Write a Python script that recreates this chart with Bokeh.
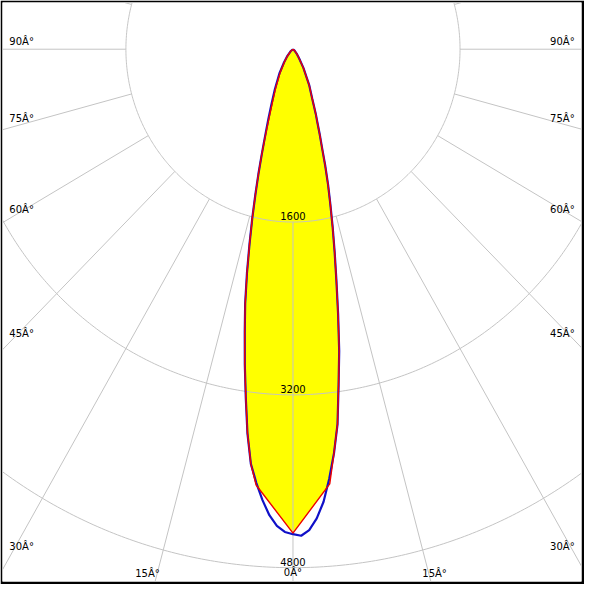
import numpy as np
from bokeh.plotting import figure
from bokeh.models import Range1d
from bokeh.embed import file_html
from bokeh.resources import INLINE
from bokeh.core.properties import value

# ---------------- data (cd) ----------------
# C90-C270 plane (blue), left and right halves
gamma_blue = [0, 1, 2, 3, 4, 5, 6, 7, 8, 9, 10, 11, 12, 13, 14, 15, 16, 17, 18, 19, 20,
              22, 25, 30, 35, 40, 50, 90]
i_blue_left = [4490, 4470, 4415, 4320, 4185, 4030, 3860, 3580, 3250, 2950, 2660, 2400, 2120,
               1850, 1610, 1390, 1200, 1030, 890, 780, 690, 550, 410, 260, 150, 90, 30, 0]
i_blue_right = [4490, 4505, 4455, 4350, 4200, 3990, 3760, 3500, 3140, 2830, 2490, 2180, 1920,
                1690, 1480, 1300, 1120, 950, 830, 720, 640, 490, 370, 200, 100, 60, 20, 0]

# C0-C180 plane (red), left and right halves
gamma_red = [0, 5, 6, 7, 8, 9, 10, 11, 12, 13, 14, 15, 16, 17, 18, 19, 20,
             22, 25, 30, 35, 40, 50, 90]
i_red_left = [4480, 4050, 3860, 3580, 3250, 2950, 2660, 2400, 2120,
              1850, 1610, 1390, 1200, 1030, 880, 760, 660, 520, 390, 240, 140, 85, 30, 0]
i_red_right = [4480, 4040, 3760, 3500, 3140, 2830, 2490, 2180, 1920,
               1690, 1480, 1300, 1120, 950, 830, 720, 640, 490, 370, 200, 100, 60, 20, 0]

ring_values = [1600, 3200, 4800]
ring_labels = ["1600", "3200", "4800"]
spoke_step = 15
angle_ticks = [0, 15, 30, 45, 60, 75, 90]
angle_labels = ["0Â°", "15Â°", "30Â°", "45Â°", "60Â°", "75Â°", "90Â°"]

# ---------------- geometry of the diagram ----------------
KX, KY = 0.1073, 0.111      # reference pixels per cd
CX, CY = 300.5, 50.0        # reference pixel position of the pole


def to_xy(gammas, intens, side):
    g = np.radians(np.asarray(gammas, float))
    r = np.asarray(intens, float)
    return side * r * np.sin(g), -r * np.cos(g)


def curve(gammas, left, right):
    xl, yl = to_xy(gammas, left, -1)
    xr, yr = to_xy(gammas, right, 1)
    return np.concatenate([xl[::-1], xr]), np.concatenate([yl[::-1], yr])


def px(xp, yp):
    return (xp - CX) / KX, (CY - yp) / KY


x0, y1 = px(2, 597)
x1, y0 = px(597, 2)

p = figure(width=584, height=584, output_backend="svg", toolbar_location=None,
           x_range=Range1d(x0, x1), y_range=Range1d(y1, y0),
           min_border_left=2, min_border_top=2, min_border_right=3, min_border_bottom=3,
           border_fill_color="black", background_fill_color="white",
           outline_line_color=None)
p.axis.visible = False
p.grid.visible = False

bx, by = curve(gamma_blue, i_blue_left, i_blue_right)
rx, ry = curve(gamma_red, i_red_left, i_red_right)

# fill
p.patch(rx, ry, fill_color="#ffff00", line_color=None)

# grid rings
t = np.linspace(0, 2 * np.pi, 721)
for v in ring_values:
    p.line(v * np.sin(t), v * np.cos(t), line_color="#c4c4c4", line_width=1)

# spokes (outside first ring)
r_in, r_out = ring_values[0], 9000
angs = np.radians(np.arange(0, 360, spoke_step))
p.segment(r_in * np.sin(angs), -r_in * np.cos(angs), r_out * np.sin(angs), -r_out * np.cos(angs),
          line_color="#c4c4c4", line_width=1)

font = value("DejaVu Sans")
# ring value labels
for v, lab in zip(ring_values, ring_labels):
    p.text([0], [-v + 6 / KY], text=[lab], text_font=font, text_font_size="10px",
           text_align="center", text_baseline="middle", text_color="black")

# angle labels
left_pos = {90: (9, 42), 75: (9, 121), 60: (9, 215), 45: (9, 342), 30: (9, 561)}
for a, lab in zip(angle_ticks, angle_labels):
    if a == 0:
        x, y = px(300.5, 588)
        p.text([x], [y], text=[lab], text_font=font, text_font_size="10px",
               text_align="center", text_baseline="middle")
    elif a == 15:
        for xp in (151, 446):
            x, y = px(xp, 589)
            p.text([x], [y], text=[lab], text_font=font, text_font_size="10px",
                   text_align="center", text_baseline="middle")
    else:
        xp, yp = left_pos[a]
        x, y = px(xp, yp)
        p.text([x], [y], text=[lab], text_font=font, text_font_size="10px",
               text_align="left", text_baseline="middle")
        x, y = px(590, yp)
        p.text([x], [y], text=[lab], text_font=font, text_font_size="10px",
               text_align="right", text_baseline="middle")

# curves
p.line(bx, by, line_color="#1010c8", line_width=2.2)
p.line(rx, ry, line_color="#ee0000", line_width=1.4)

open("out.html", "w").write(file_html(p, INLINE))
